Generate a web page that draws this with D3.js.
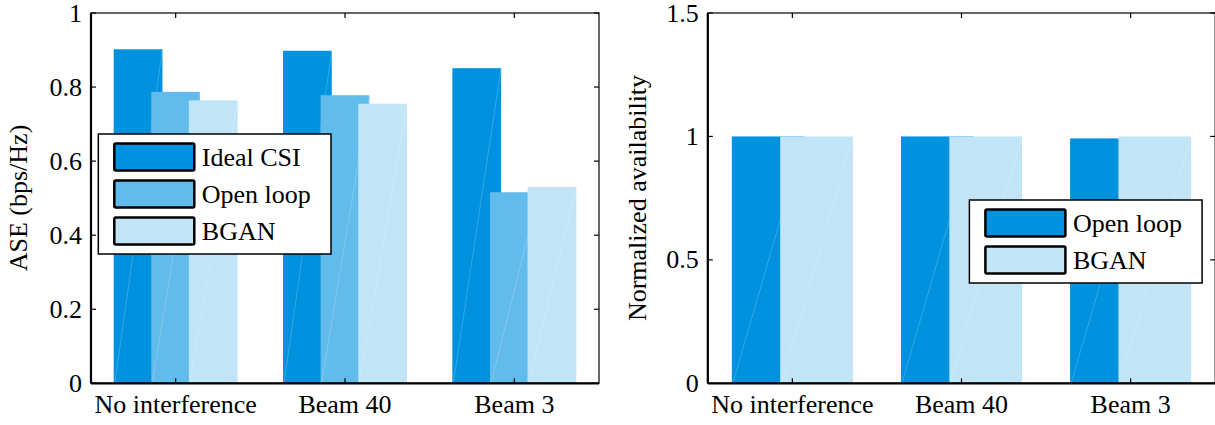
<!DOCTYPE html>
<html lang="en">
<head>
<meta charset="UTF-8">
<title>ASE and availability</title>
<script src="https://d3js.org/d3.v7.min.js"></script>
<style>
  body { margin: 0; background: #fff; }
  svg text { font-family: "Liberation Serif", "Times New Roman", serif; fill: #000; }
</style>
</head>
<body>
<svg id="chart" width="1215" height="425"></svg>
<script>
// data
const groups = ["No interference", "Beam 40", "Beam 3"];
const aseIdeal = [0.902, 0.898, 0.851];
const aseOpen = [0.787, 0.778, 0.516];
const aseBgan = [0.764, 0.755, 0.530];
const availOpen = [1.0, 1.0, 0.992];
const availBgan = [1.0, 1.0, 1.0];
const aseTicks = [0, 0.2, 0.4, 0.6, 0.8, 1];
const availTicks = [0, 0.5, 1, 1.5];

const cDark = "#0092de", cMid = "#62bceb", cLight = "#c1e4f7";
const svg = d3.select("#chart");
const fontSize = 26;

function panel(opt) {
  const x = d3.scaleLinear().domain([0.5, 3.5]).range([opt.left, opt.right]);
  const y = d3.scaleLinear().domain(opt.yDomain).range([383.3, 13]);
  const g = svg.append("g");
  const bw = x(opt.barWidth) - x(0);

  // bars, drawn series by series so later ones sit on top
  opt.series.forEach((s, si) => {
    const bars = g.append("g");
    s.values.forEach((v, i) => {
      const x0 = x(i + 1 + opt.offsets[si]) - bw / 2;
      bars.append("rect")
        .attr("x", x0).attr("y", y(v))
        .attr("width", bw).attr("height", y(0) - y(v))
        .attr("fill", s.color);
      // faint seam line like the original pdf render
      bars.append("line")
        .attr("x1", x0 + 1).attr("y1", y(0))
        .attr("x2", x0 + bw).attr("y2", y(v))
        .attr("stroke", "#fff").attr("stroke-opacity", 0.25).attr("stroke-width", 0.8);
    });
  });

  // box + ticks
  const ax = g.append("g").attr("stroke", "#000").attr("fill", "none");
  ax.append("rect")
    .attr("x", x(0.5)).attr("y", y(opt.yDomain[1]))
    .attr("width", x(3.5) - x(0.5)).attr("height", y(0) - y(opt.yDomain[1]))
    .attr("stroke-width", 1.2);
  ax.append("line").attr("x1", x(0.5)).attr("x2", x(3.5)).attr("y1", y(0)).attr("y2", y(0)).attr("stroke-width", 2.2);
  ax.append("line").attr("x1", x(0.5)).attr("x2", x(0.5)).attr("y1", y(0)).attr("y2", y(opt.yDomain[1])).attr("stroke-width", 2.2);
  const tl = 5;
  opt.yTicks.forEach(t => {
    ax.append("line").attr("x1", x(0.5)).attr("x2", x(0.5) + tl).attr("y1", y(t)).attr("y2", y(t)).attr("stroke-width", 1.2);
    ax.append("line").attr("x1", x(3.5)).attr("x2", x(3.5) - tl).attr("y1", y(t)).attr("y2", y(t)).attr("stroke-width", 1.2);
    g.append("text").attr("x", x(0.5) - 9).attr("y", y(t) + 8.5)
      .attr("text-anchor", "end").attr("font-size", fontSize).text(String(t));
  });
  groups.forEach((name, i) => {
    const cx = x(i + 1);
    ax.append("line").attr("x1", cx).attr("x2", cx).attr("y1", y(0)).attr("y2", y(0) - tl).attr("stroke-width", 1.2);
    ax.append("line").attr("x1", cx).attr("x2", cx).attr("y1", y(opt.yDomain[1])).attr("y2", y(opt.yDomain[1]) + tl).attr("stroke-width", 1.2);
    g.append("text").attr("x", cx).attr("y", 413)
      .attr("text-anchor", "middle").attr("font-size", fontSize).text(name);
  });

  // y label
  g.append("text")
    .attr("transform", `translate(${opt.labelX},198) rotate(-90)`)
    .attr("text-anchor", "middle").attr("font-size", fontSize).text(opt.yLabel);

  // legend
  const lg = g.append("g");
  const rows = opt.series.length;
  const lh = 37;
  lg.append("rect")
    .attr("x", opt.legX).attr("y", opt.legY)
    .attr("width", 232.7).attr("height", 19 + rows * lh - 10)
    .attr("fill", "#fff").attr("stroke", "#000").attr("stroke-width", 1.5);
  opt.series.forEach((s, si) => {
    const ry = opt.legY + 9.5 + si * lh;
    lg.append("rect")
      .attr("x", opt.legX + 16).attr("y", ry)
      .attr("width", 80).attr("height", 27).attr("rx", 1.5)
      .attr("fill", s.color).attr("stroke", "#000").attr("stroke-width", 2.5);
    lg.append("text")
      .attr("x", opt.legX + 103.5).attr("y", ry + 22)
      .attr("font-size", fontSize).text(s.name);
  });
}

panel({
  left: 91, right: 599,
  yDomain: [0, 1], yTicks: aseTicks,
  yLabel: "ASE (bps/Hz)", labelX: 27,
  barWidth: 0.288, offsets: [-0.222, 0, 0.222],
  series: [
    { name: "Ideal CSI", values: aseIdeal, color: cDark },
    { name: "Open loop", values: aseOpen, color: cMid },
    { name: "BGAN", values: aseBgan, color: cLight }
  ],
  legX: 98.3, legY: 134
});

panel({
  left: 707.8, right: 1215.2,
  yDomain: [0, 1.5], yTicks: availTicks,
  yLabel: "Normalized availability", labelX: 646,
  barWidth: 0.43, offsets: [-0.143, 0.143],
  series: [
    { name: "Open loop", values: availOpen, color: cDark },
    { name: "BGAN", values: availBgan, color: cLight }
  ],
  legX: 969.4, legY: 200
});
</script>
</body>
</html>
